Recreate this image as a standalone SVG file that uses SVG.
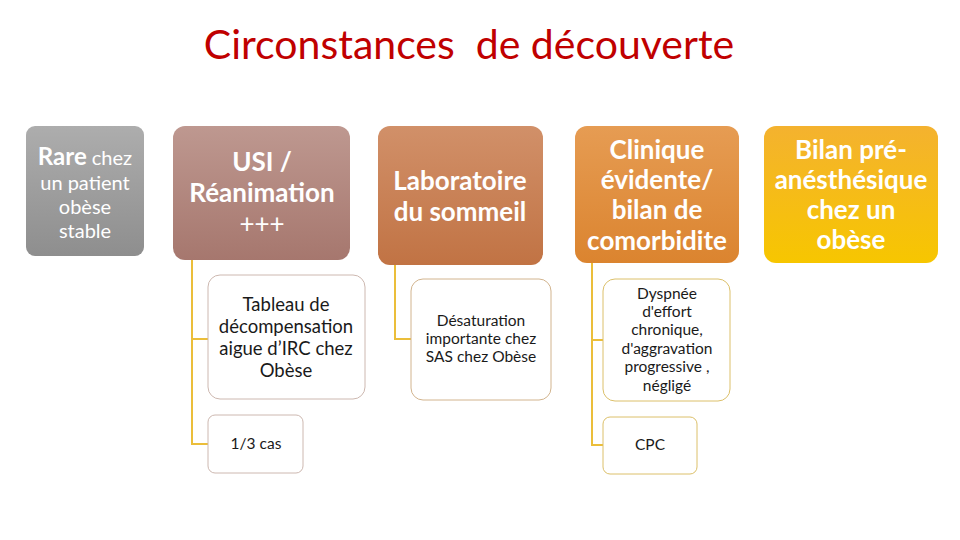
<svg xmlns="http://www.w3.org/2000/svg" width="960" height="540" viewBox="0 0 960 540">
<style>
.title{font-family:Lato,"Open Sans","DejaVu Sans",sans-serif;font-size:41px;fill:#C00000;white-space:pre}
.ph{font-family:Lato,"Open Sans","DejaVu Sans",sans-serif;font-weight:bold;font-size:26px;fill:#FFFFFF;text-anchor:middle}
.pr{font-family:Lato,"Open Sans","DejaVu Sans",sans-serif;font-size:20px;fill:#FFFFFF;text-anchor:middle}
.child{fill:#FFFFFF;stroke-width:1}
.ct{font-family:Lato,"Open Sans","DejaVu Sans",sans-serif;font-size:15.5px;fill:#1a1a1a;text-anchor:middle}
.ct17{font-family:Lato,"Open Sans","DejaVu Sans",sans-serif;font-size:18.5px;fill:#1a1a1a;text-anchor:middle}
.conn{fill:none;stroke:#EBBE3A;stroke-width:2}
</style>
<defs>
<linearGradient id="gGray" x1="0" y1="0" x2="0" y2="1"><stop offset="0" stop-color="#ADADAD"/><stop offset="1" stop-color="#8E8E8E"/></linearGradient>
<linearGradient id="gUsi" x1="0" y1="0" x2="0" y2="1"><stop offset="0" stop-color="#BE9890"/><stop offset="1" stop-color="#A6776E"/></linearGradient>
<linearGradient id="gLab" x1="0" y1="0" x2="0" y2="1"><stop offset="0" stop-color="#D19069"/><stop offset="1" stop-color="#C17344"/></linearGradient>
<linearGradient id="gCli" x1="0" y1="0" x2="0" y2="1"><stop offset="0" stop-color="#E69C53"/><stop offset="1" stop-color="#DB842F"/></linearGradient>
<linearGradient id="gBil" x1="0" y1="0" x2="0" y2="1"><stop offset="0" stop-color="#F4B22F"/><stop offset="1" stop-color="#F7C600"/></linearGradient>
</defs>
<rect width="960" height="540" fill="#FFFFFF"/>
<text class="title" x="469" y="59" text-anchor="middle">Circonstances  de découverte</text>

<g id="connectors">
<path class="conn" d="M192 260 V444 H208 M192 339 H208"/>
<path class="conn" d="M395 265 V339 H411"/>
<path class="conn" d="M592 263 V445 H603 M592 340 H603"/>
</g>

<g id="rare">
<rect x="26" y="126" width="118" height="130" rx="9" fill="url(#gGray)"/>
<text x="85" y="165" text-anchor="middle" font-family="Lato,'Open Sans',sans-serif" fill="#FFFFFF"><tspan font-weight="bold" font-size="24px">Rare</tspan><tspan font-size="20px"> chez</tspan></text>
<text class="pr" x="85" y="190">un patient</text>
<text class="pr" x="85" y="214">obèse</text>
<text class="pr" x="85" y="238">stable</text>
</g>

<g id="usi">
<rect x="173" y="126" width="177" height="134" rx="12" fill="url(#gUsi)"/>
<text class="ph" x="262" y="171">USI /</text>
<text class="ph" x="262" y="202">Réanimation</text>
<text class="ph" x="262" y="233" style="font-weight:normal">+++</text>
</g>

<g id="labo">
<rect x="378" y="126" width="165" height="139" rx="12" fill="url(#gLab)"/>
<text class="ph" x="460" y="190">Laboratoire</text>
<text class="ph" x="460" y="221">du sommeil</text>
</g>

<g id="clinique">
<rect x="575" y="126" width="164" height="137" rx="12" fill="url(#gCli)"/>
<text class="ph" x="657" y="159">Clinique</text>
<text class="ph" x="657" y="189">évidente/</text>
<text class="ph" x="657" y="219">bilan de</text>
<text class="ph" x="657" y="250">comorbidite</text>
</g>

<g id="bilan">
<rect x="764" y="126" width="174" height="137" rx="12" fill="url(#gBil)"/>
<text class="ph" x="851" y="159">Bilan pré-</text>
<text class="ph" x="851" y="189">anésthésique</text>
<text class="ph" x="851" y="219">chez un</text>
<text class="ph" x="851" y="249">obèse</text>
</g>

<g id="tableau">
<rect class="child" x="208" y="275" width="157" height="124" rx="12" stroke="#CDB8B0"/>
<text class="ct17" x="286" y="311">Tableau de</text>
<text class="ct17" x="286" y="333">décompensation</text>
<text class="ct17" x="286" y="355">aigue d’IRC chez</text>
<text class="ct17" x="286" y="377">Obèse</text>
</g>

<g id="tiers">
<rect class="child" x="208" y="415" width="95" height="58" rx="7" stroke="#CDB8B0"/>
<text class="ct" x="256" y="449">1/3 cas</text>
</g>

<g id="desaturation">
<rect class="child" x="411" y="279" width="140" height="121" rx="12" stroke="#D2B48E"/>
<text class="ct" x="481" y="326">Désaturation</text>
<text class="ct" x="481" y="344">importante chez</text>
<text class="ct" x="481" y="362">SAS chez Obèse</text>
</g>

<g id="dyspnee">
<rect class="child" x="603" y="279" width="127" height="122" rx="12" stroke="#DCC06A"/>
<text class="ct" x="667" y="299">Dyspnée</text>
<text class="ct" x="667" y="317">d'effort</text>
<text class="ct" x="667" y="335">chronique,</text>
<text class="ct" x="667" y="354">d'aggravation</text>
<text class="ct" x="667" y="372">progressive ,</text>
<text class="ct" x="667" y="391">négligé</text>
</g>

<g id="cpc">
<rect class="child" x="603" y="417" width="94" height="57" rx="7" stroke="#DCC06A"/>
<text class="ct" x="650" y="450">CPC</text>
</g>
</svg>
